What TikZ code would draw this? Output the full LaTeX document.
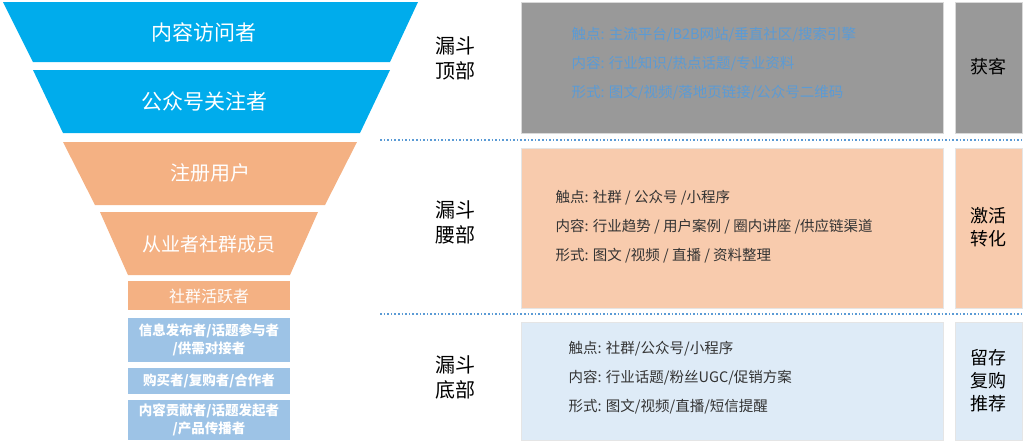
\documentclass[tikz,border=0pt]{standalone}
\usepackage{fontspec}
\setmainfont{Noto Sans CJK SC}
\usetikzlibrary{positioning}
\definecolor{funnelblue}{RGB}{0,172,236}
\definecolor{funnelorange}{RGB}{244,177,131}
\definecolor{funnellight}{RGB}{157,195,230}
\definecolor{boxgray}{RGB}{153,153,153}
\definecolor{boxorange}{RGB}{248,203,173}
\definecolor{boxblue}{RGB}{222,235,247}
\definecolor{textblue}{RGB}{91,155,213}
\tikzset{
  seg/.style={text=white},
  stage/.style={font=\fontsize{20}{25}\selectfont, align=center},
  info/.style={font=\fontsize{14.5}{29}\selectfont, align=left, anchor=west, text=black!80},
  side/.style={font=\fontsize{18}{23}\selectfont, align=center},
  divider/.style={draw=textblue, dotted, line width=1.6pt}
}
\begin{document}
\begin{tikzpicture}[x=1pt,y=-1pt]
\useasboundingbox (0,0) rectangle (1024,445);
% funnel
\fill[funnelblue] (3,2) -- (418,2) -- (390,62) -- (33,62) -- cycle;
\node[seg, font=\fontsize{21}{25}\selectfont] (visit) at (204,32) {内容访问者};
\fill[funnelblue] (33,70) -- (390,70) -- (360,133) -- (63,133) -- cycle;
\node[seg, font=\fontsize{21}{25}\selectfont] (follow) at (204,101) {公众号关注者};
\fill[funnelorange] (63,142) -- (357,142) -- (325,205) -- (95,205) -- cycle;
\node[seg, font=\fontsize{20}{25}\selectfont] (reg) at (210,173) {注册用户};
\fill[funnelorange] (100,212) -- (318,212) -- (290,275) -- (128,275) -- cycle;
\node[seg, font=\fontsize{19}{25}\selectfont] (member) at (209,244) {从业者社群成员};
\fill[funnelorange] (128,281) rectangle (290,310);
\node[seg, font=\fontsize{16}{20}\selectfont] (active) at (209,296) {社群活跃者};
\fill[funnellight] (128,318) rectangle (290,362);
\node[seg, font=\bfseries\fontsize{13.5}{18}\selectfont, align=center] (poster) at (209,340) {信息发布者/话题参与者\\/供需对接者};
\fill[funnellight] (128,368) rectangle (290,394);
\node[seg, font=\bfseries\fontsize{13.5}{18}\selectfont] (buyer) at (209,381) {购买者/复购者/合作者};
\fill[funnellight] (128,400) rectangle (290,440);
\node[seg, font=\bfseries\fontsize{13.5}{18}\selectfont, align=center] (giver) at (209,420) {内容贡献者/话题发起者\\/产品传播者};
% stages
\node[stage] (top) at (455,58) {漏斗\\顶部};
\node[stage] (mid) at (455,222) {漏斗\\腰部};
\node[stage] (bot) at (455,377) {漏斗\\底部};
% boxes
\fill[boxgray, draw=black!15] (521,2) rectangle (943,133);
\fill[boxgray, draw=black!15] (955,2) rectangle (1022,133);
\node[info, text=textblue] (g) at (568,64) {触点: 主流平台/B2B网站/垂直社区/搜索引擎\\内容: 行业知识/热点话题/专业资料\\形式: 图文/视频/落地页链接/公众号二维码};
\node[side] (acq) at (988,67) {获客};
\fill[boxorange, draw=black!10] (521,148) rectangle (943,308);
\fill[boxorange, draw=black!10] (955,148) rectangle (1022,308);
\node[info] (o) at (552,227) {触点: 社群 / 公众号 /小程序\\内容: 行业趋势 / 用户案例 / 圈内讲座 /供应链渠道\\形式: 图文 /视频 / 直播 / 资料整理};
\node[side] (act) at (988,227) {激活\\转化};
\fill[boxblue, draw=black!10] (521,322) rectangle (943,440);
\fill[boxblue, draw=black!10] (955,322) rectangle (1022,440);
\node[info] (b) at (565,378) {触点: 社群/公众号/小程序\\内容: 行业话题/粉丝UGC/促销方案\\形式: 图文/视频/直播/短信提醒};
\node[side] (ret) at (988,381) {留存\\复购\\推荐};
% dividers
\draw[divider] (380,140) -- (1022,140);
\draw[divider] (380,314) -- (1022,314);
\end{tikzpicture}
\end{document}
